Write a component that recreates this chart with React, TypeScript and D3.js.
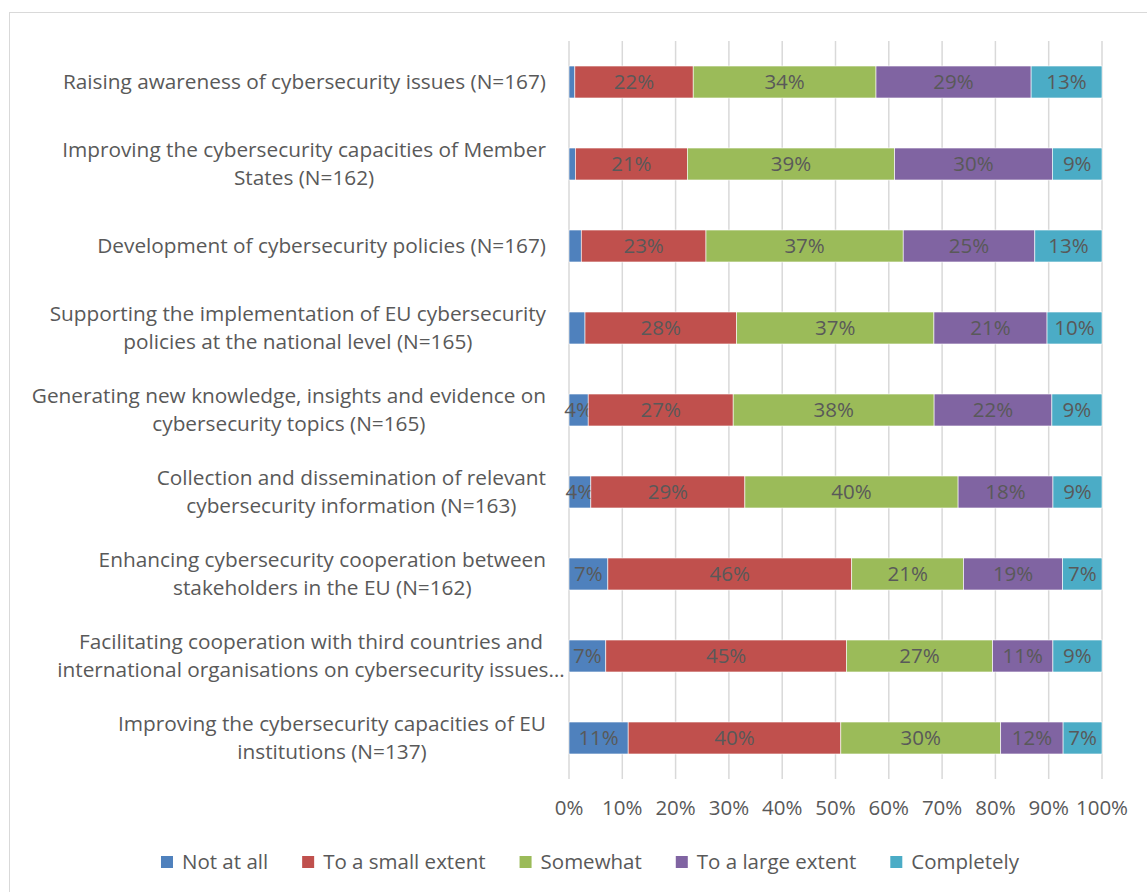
import React from 'react';
import * as d3 from 'd3';

const categories = [
  "Raising awareness of cybersecurity issues (N=167)",
  "Improving the cybersecurity capacities of Member\nStates (N=162)",
  "Development of cybersecurity policies (N=167)",
  "Supporting the implementation of EU cybersecurity\npolicies at the national level (N=165)",
  "Generating new knowledge, insights and evidence on\ncybersecurity topics (N=165)",
  "Collection and dissemination of relevant\ncybersecurity information (N=163)",
  "Enhancing cybersecurity cooperation between\nstakeholders in the EU (N=162)",
  "Facilitating cooperation with third countries and\ninternational organisations on cybersecurity issues…",
  "Improving the cybersecurity capacities of EU\ninstitutions (N=137)",
];
const seriesNames = ["Not at all", "To a small extent", "Somewhat", "To a large extent", "Completely"];
const seriesColors = ["#4F81BD", "#C0504D", "#9BBB59", "#8064A2", "#4BACC6"];
const notAtAll = [1.1, 1.2, 2.3, 3.0, 3.6, 4.1, 7.3, 6.9, 11.1];
const smallExtent = [22.2, 21.0, 23.4, 28.4, 27.2, 28.9, 45.8, 45.1, 39.9];
const somewhat = [34.3, 38.9, 37.0, 37.0, 37.7, 40.0, 21.0, 27.4, 30.0];
const largeExtent = [29.1, 29.6, 24.7, 21.2, 22.1, 17.8, 18.6, 11.3, 11.7];
const completely = [13.3, 9.3, 12.6, 10.3, 9.4, 9.2, 7.4, 9.2, 7.3];
const tickValues = [0, 0.1, 0.2, 0.3, 0.4, 0.5, 0.6, 0.7, 0.8, 0.9, 1];

const FONT = '"Open Sans", sans-serif';
const TEXT = '#595959';

let ctx: CanvasRenderingContext2D | null = null;
function measure(text: string, size: number) {
  if (!ctx) ctx = document.createElement('canvas').getContext('2d');
  ctx!.font = `${size}px "Open Sans"`;
  return ctx!.measureText(text).width;
}

export default function App() {
  const W = 1147, H = 892;
  const left = 569, right = 1102, top = 41, bottom = 779;
  const seriesArrays = [notAtAll, smallExtent, somewhat, largeExtent, completely];
  const rows = categories.map((c, i) => {
    const o: any = { cat: c };
    seriesNames.forEach((s, j) => (o[s] = seriesArrays[j][i]));
    return o;
  });
  const stack = d3.stack<any>().keys(seriesNames).offset(d3.stackOffsetExpand);
  const stacked = stack(rows);
  const x = d3.scaleLinear().domain([0, 1]).range([left, right]);
  const y = d3.scaleBand().domain(categories).range([top, bottom]).paddingInner(0.61).paddingOuter(0.305);

  const catSize = 20.8;
  const labelSize = 20.5;
  const legendSize = 20.5;
  const tickSize = 20.5;

  // legend layout
  const sq = 12, textOff = 21, gapItem = 34;
  const itemWidths = seriesNames.map((s) => textOff + measure(s, legendSize));
  const totalLegend = d3.sum(itemWidths) + gapItem * (seriesNames.length - 1);
  let lx = 590 - totalLegend / 2;
  const legendItems = seriesNames.map((s, i) => {
    const item = { name: s, x: lx, color: seriesColors[i] };
    lx += itemWidths[i] + gapItem;
    return item;
  });

  return (
    <svg width={W} height={H} style={{ position: 'absolute', left: 0, top: 0, background: '#fff' }} fontFamily={FONT}>
      <rect x={9.5} y={12.5} width={1150} height={900} fill="#fff" stroke="#d9d9d9" strokeWidth={1} />
      {tickValues.map((t) => (
        <line key={t} x1={x(t)} x2={x(t)} y1={top} y2={bottom} stroke="#d9d9d9" strokeWidth={1.5} />
      ))}
      {stacked.map((s, si) => (
        <g key={s.key}>
          {s.map((d, i) => {
            const cat = categories[i];
            const x0 = x(d[0]), x1 = x(d[1]);
            const v = seriesArrays[si][i];
            return (
              <g key={cat}>
                <rect x={x0} y={y(cat)!} width={x1 - x0} height={y.bandwidth()} fill={seriesColors[si]} stroke="#fff" strokeWidth={0.6} />
                {v >= 3.5 && (
                  <text x={(x0 + x1) / 2} y={y(cat)! + y.bandwidth() / 2} dy="0.35em" textAnchor="middle" fontSize={labelSize} fill={TEXT}>
                    {Math.round(v) + '%'}
                  </text>
                )}
              </g>
            );
          })}
        </g>
      ))}
      {categories.map((c) => {
        const lines = c.split('\n');
        const widths = lines.map((l) => measure(l, catSize));
        const maxW = Math.max(...widths);
        const truncated = c.includes('…');
        const blockW = truncated ? Math.min(maxW, 470) : maxW;
        const cx = 546 - blockW / 2;
        const cy = y(c)! + y.bandwidth() / 2;
        const lh = 28;
        return (
          <text key={c} fontSize={catSize} fill={TEXT} textAnchor="middle">
            {lines.map((l, k) => (
              <tspan key={k} x={cx} y={cy + (k - (lines.length - 1) / 2) * lh} dy="0.35em">{l}</tspan>
            ))}
          </text>
        );
      })}
      {tickValues.map((t) => (
        <text key={t} x={x(t)} y={808} dy="0.35em" textAnchor="middle" fontSize={tickSize} fill={TEXT}>
          {d3.format('.0%')(t)}
        </text>
      ))}
      {legendItems.map((it) => (
        <g key={it.name}>
          <rect x={it.x} y={856} width={sq} height={sq} fill={it.color} />
          <text x={it.x + textOff} y={862} dy="0.35em" fontSize={legendSize} fill={TEXT}>{it.name}</text>
        </g>
      ))}
    </svg>
  );
}
